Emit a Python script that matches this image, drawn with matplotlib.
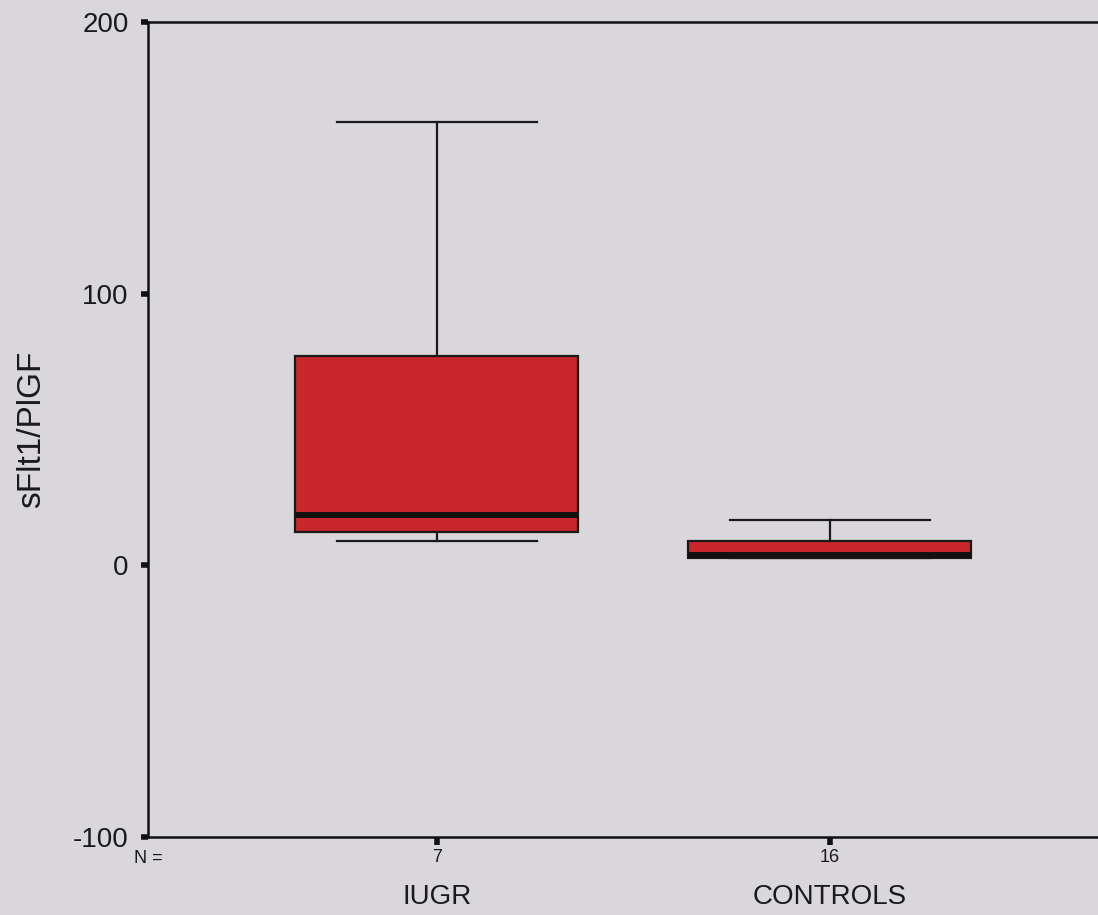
import matplotlib.pyplot as plt

plt.rcParams['font.family'] = ['Liberation Sans', 'DejaVu Sans']

groups = ['IUGR', 'CONTROLS']
n_counts = [7, 16]
whislo = [9, 2.6]
q1 = [12.2, 2.6]
med = [18.4, 3.7]
q3 = [77, 8.9]
whishi = [163, 16.6]
y_ticks = [-100, 0, 100, 200]

bg = '#d9d6dc'

fig = plt.figure(figsize=(10.98, 9.15), dpi=100, facecolor=bg)
ax = fig.add_axes([0.1348, 0.0852, 0.8842, 0.8908], facecolor=bg)

stats = []
for i in range(len(groups)):
    stats.append(dict(label=groups[i], whislo=whislo[i], q1=q1[i], med=med[i],
                      q3=q3[i], whishi=whishi[i], fliers=[]))

ax.bxp(stats, positions=[1, 2], widths=0.72, patch_artist=True, showfliers=False,
       boxprops=dict(facecolor='#c8272c', edgecolor='#1a1a1a', linewidth=1.6),
       medianprops=dict(color='#151010', linewidth=4.3, solid_capstyle='butt'),
       whiskerprops=dict(color='#1a1a1a', linewidth=1.6),
       capprops=dict(color='#1a1a1a', linewidth=1.6),
       capwidths=0.51)

ax.set_xlim(0.265, 2.735)
ax.set_ylim(-100, 200)
ax.set_yticks(y_ticks)
ax.set_yticklabels([str(v) for v in y_ticks], fontsize=20, color='#1a1a1a')
ax.set_xticks([1, 2])
ax.set_xticklabels([])
ax.tick_params(axis='y', length=5, width=4, color='#111111', pad=9)
ax.tick_params(axis='x', length=6, width=4, color='#111111', pad=6)
for s in ['left', 'top', 'bottom', 'right']:
    ax.spines[s].set_linewidth(1.8)
    ax.spines[s].set_color('#111111')

ax.set_ylabel('sFlt1/PlGF', fontsize=24, color='#1a1a1a')
ax.yaxis.set_label_coords(-0.104, 0.5)

for i in range(len(groups)):
    ax.text(i + 1, -107.4, str(n_counts[i]), fontsize=13, ha='center', va='center',
            color='#1a1a1a', clip_on=False)
    ax.text(i + 1, -122.1, groups[i], fontsize=20, ha='center', va='center',
            color='#1a1a1a', clip_on=False)
ax.text(0.265, -107.8, 'N =', fontsize=13, ha='center', va='center', color='#1a1a1a',
        clip_on=False)

fig.savefig('out.png', dpi=100, facecolor=bg)
